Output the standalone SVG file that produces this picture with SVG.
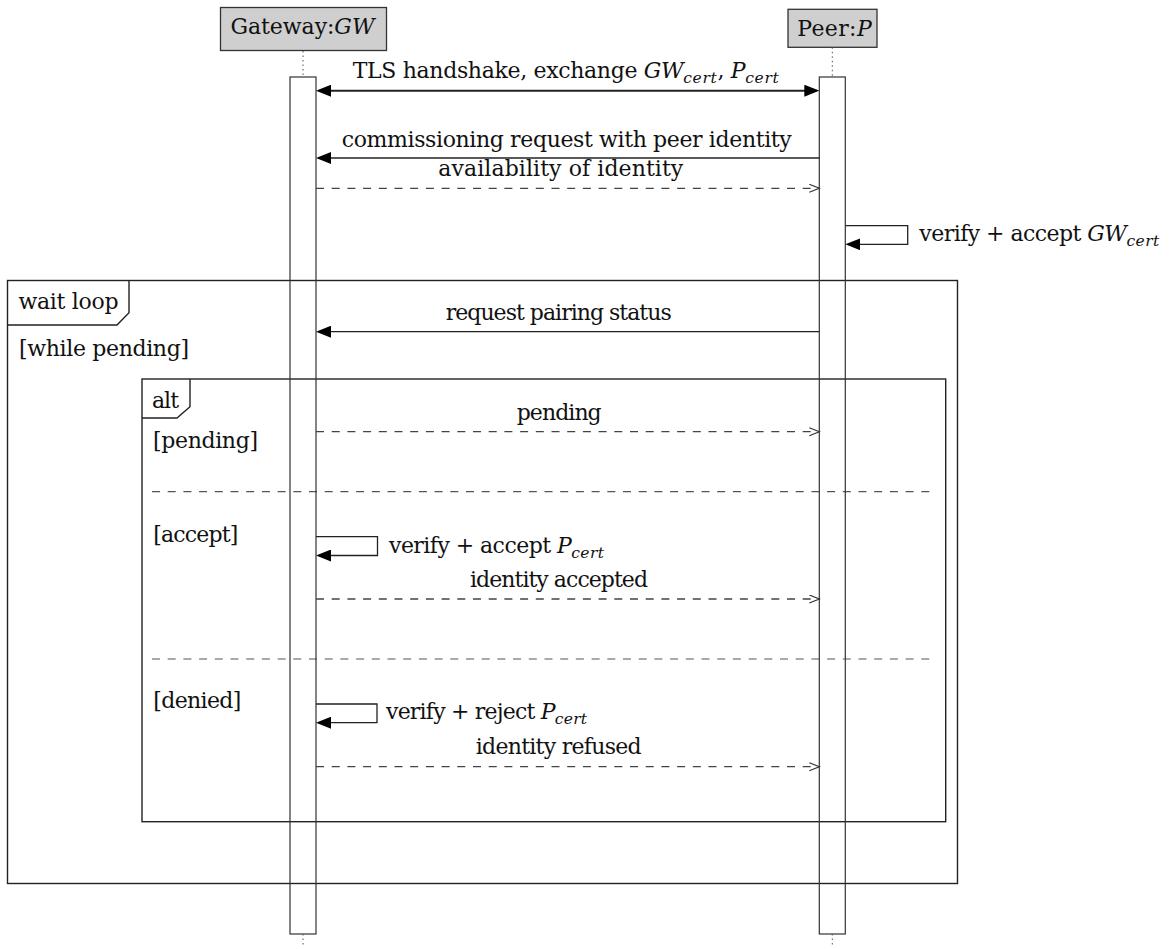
<svg xmlns="http://www.w3.org/2000/svg" width="1176" height="949" viewBox="0 0 1176 949">
  <style>
    .t { font-family: "DejaVu Serif", "Liberation Serif", serif; font-size: 22px; fill: #111; }
    .i { font-style: italic; }
    .sub { font-style: italic; font-size: 15.5px; letter-spacing: 1px; }
    .head { fill: #cfcfcf; stroke: #333; stroke-width: 1.3; }
    .bar { fill: none; stroke: #333; stroke-width: 1.2; }
    .life { stroke: #555; stroke-width: 1; stroke-dasharray: 1.5 3; }
    .frame { fill: none; stroke: #222; stroke-width: 1.4; }
    .sep { stroke: #555; stroke-width: 1.2; stroke-dasharray: 8 7.7; }
    .msg { fill: none; stroke: #222; stroke-width: 1.3; }
    .thick { stroke-width: 2; }
    .dash { stroke: #444; stroke-dasharray: 8 7.7; }
  </style>
  <defs>
    <marker id="solid" markerUnits="userSpaceOnUse" markerWidth="15" markerHeight="12" refX="12" refY="6" orient="auto-start-reverse">
      <path d="M0,0 L15,6 L0,12 Z" fill="#000"/>
    </marker>
    <marker id="open" markerUnits="userSpaceOnUse" markerWidth="12" markerHeight="10" refX="10.5" refY="4.5" orient="auto">
      <path d="M0.5,0.5 L10.5,4.5 L0.5,8.5" fill="none" stroke="#333" stroke-width="1.2"/>
    </marker>
  </defs>

  <!-- combined fragments -->
  <g id="loop-frame">
    <rect class="frame" x="7.5" y="280.5" width="950" height="603"/>
    <path class="frame" d="M7.5,325 H117 L129,312.7 V280.5"/>
    <text class="t" x="18.5" y="309" textLength="100">wait loop</text>
    <text class="t" x="19" y="355.5" textLength="170">[while pending]</text>
  </g>
  <g id="alt-frame">
    <rect class="frame" x="142" y="379" width="803.7" height="442.7"/>
    <path class="frame" d="M142,418 H177 L190,406.7 V379"/>
    <text class="t" x="152" y="407.5" textLength="27">alt</text>
    <text class="t" x="153" y="448" textLength="105">[pending]</text>
    <line class="sep" x1="152" y1="491.7" x2="935" y2="491.7"/>
    <text class="t" x="153.3" y="541.5" textLength="85">[accept]</text>
    <line class="sep" x1="152" y1="659" x2="935" y2="659"/>
    <text class="t" x="153.3" y="708.3" textLength="88">[denied]</text>
  </g>

  <!-- participants -->
  <g id="gateway">
    <rect class="head" x="220.5" y="7.5" width="166" height="43"/>
    <text class="t" x="230.5" y="33.5" textLength="144">Gateway:<tspan class="i">GW</tspan></text>
    <line class="life" x1="303" y1="51" x2="303" y2="77"/>
    <rect class="bar" x="290" y="77" width="26" height="857"/>
    <line class="life" x1="303" y1="934" x2="303" y2="947"/>
  </g>
  <g id="peer">
    <rect class="head" x="788" y="9.3" width="89" height="38"/>
    <text class="t" x="797.3" y="36" textLength="74.4">Peer:<tspan class="i">P</tspan></text>
    <line class="life" x1="832.3" y1="47.3" x2="832.3" y2="77"/>
    <rect class="bar" x="819.3" y="77" width="26" height="857"/>
    <line class="life" x1="832.3" y1="934" x2="832.3" y2="947"/>
  </g>

  <!-- messages -->
  <g id="connectors">
    <line class="msg thick" x1="319" y1="90.7" x2="816.3" y2="90.7" marker-start="url(#solid)" marker-end="url(#solid)"/>
    <line class="msg" x1="819.3" y1="158" x2="319" y2="158" marker-end="url(#solid)"/>
    <line class="msg dash" x1="316" y1="188.3" x2="819.3" y2="188.3" marker-end="url(#open)"/>
    <path class="msg" d="M845.3,225.7 H907.7 V244.3 H848.3" marker-end="url(#solid)"/>
    <line class="msg" x1="819.3" y1="331.7" x2="319" y2="331.7" marker-end="url(#solid)"/>
    <line class="msg dash" x1="316" y1="431.7" x2="819.3" y2="431.7" marker-end="url(#open)"/>
    <path class="msg" d="M316,536.7 H377.5 V555.5 H319" marker-end="url(#solid)"/>
    <line class="msg dash" x1="316" y1="599" x2="819.3" y2="599" marker-end="url(#open)"/>
    <path class="msg" d="M316,704 H377 V722.7 H319" marker-end="url(#solid)"/>
    <line class="msg dash" x1="316" y1="766.7" x2="819.3" y2="766.7" marker-end="url(#open)"/>
  </g>

  <!-- message labels -->
  <g id="labels">
    <text class="t" x="352.7" y="78" textLength="427">TLS handshake, exchange <tspan class="i">GW</tspan><tspan class="sub" dy="5">cert</tspan><tspan dy="-5">, </tspan><tspan class="i">P</tspan><tspan class="sub" dy="5">cert</tspan></text>
    <text class="t" x="341.7" y="146.5" textLength="450">commissioning request with peer identity</text>
    <text class="t" x="438.3" y="175.5" textLength="245">availability of identity</text>
    <text class="t" x="919.3" y="241" textLength="241">verify + accept <tspan class="i">GW</tspan><tspan class="sub" dy="5">cert</tspan></text>
    <text class="t" x="445.7" y="320" textLength="226">request pairing status</text>
    <text class="t" x="516.7" y="420" textLength="85">pending</text>
    <text class="t" x="389" y="552.5" textLength="216">verify + accept <tspan class="i">P</tspan><tspan class="sub" dy="5">cert</tspan></text>
    <text class="t" x="470" y="587" textLength="178">identity accepted</text>
    <text class="t" x="386" y="718.5" textLength="202">verify + reject <tspan class="i">P</tspan><tspan class="sub" dy="5">cert</tspan></text>
    <text class="t" x="475.7" y="754" textLength="166">identity refused</text>
  </g>
</svg>
